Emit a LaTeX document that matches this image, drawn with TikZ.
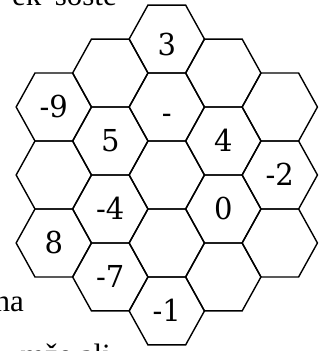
\documentclass[tikz,border=0pt]{standalone}
\usepackage{fontspec}
\setmainfont{DejaVu Serif}
\newfontfamily\runtext{Liberation Serif}
\usetikzlibrary{shapes.geometric}

\begin{document}
\begin{tikzpicture}[x=1pt,y=1pt,
    hexcell/.style={draw,line width=1.4pt,regular polygon,regular polygon sides=6,minimum size=75.3pt,inner sep=0pt,transform shape,font=\fontsize{29}{29}\selectfont,text height=21pt,text depth=0pt},
    runline/.style={inner sep=0pt,font=\runtext\fontsize{31}{31}\selectfont}]
  \useasboundingbox (0,0) rectangle (323,351);
  \begin{scope}[shift={(166.8,176)},yscale=1.042]
    \node[hexcell] (a1) at (-113,65.24) {-9};
    \node[hexcell] (a2) at (-113,0) {};
    \node[hexcell] (a3) at (-113,-65.24) {8};
    \node[hexcell] (b1) at (-56.5,97.86) {};
    \node[hexcell] (b2) at (-56.5,32.62) {5};
    \node[hexcell] (b3) at (-56.5,-32.62) {-4};
    \node[hexcell] (b4) at (-56.5,-97.86) {-7};
    \node[hexcell] (c1) at (0,130.48) {\raisebox{-5pt}{3}};
    \node[hexcell] (c2) at (0,65.24) {\raisebox{-5pt}{-}};
    \node[hexcell] (c3) at (0,0) {};
    \node[hexcell] (c4) at (0,-65.24) {};
    \node[hexcell] (c5) at (0,-130.48) {-1};
    \node[hexcell] (d1) at (56.5,97.86) {};
    \node[hexcell] (d2) at (56.5,32.62) {4};
    \node[hexcell] (d3) at (56.5,-32.62) {0};
    \node[hexcell] (d4) at (56.5,-97.86) {};
    \node[hexcell] (e1) at (113,65.24) {};
    \node[hexcell] (e2) at (113,0) {-2};
    \node[hexcell] (e3) at (113,-65.24) {};
  \end{scope}
  % cut-off lines of the running text
  \node[runline,anchor=base east] (top) at (117,345) {ek' šošte};
  \node[runline,anchor=base east] (left) at (24,39) {na};
  \node[runline,anchor=base east] (bottom) at (111,-14) {mže ali};
\end{tikzpicture}
\end{document}
